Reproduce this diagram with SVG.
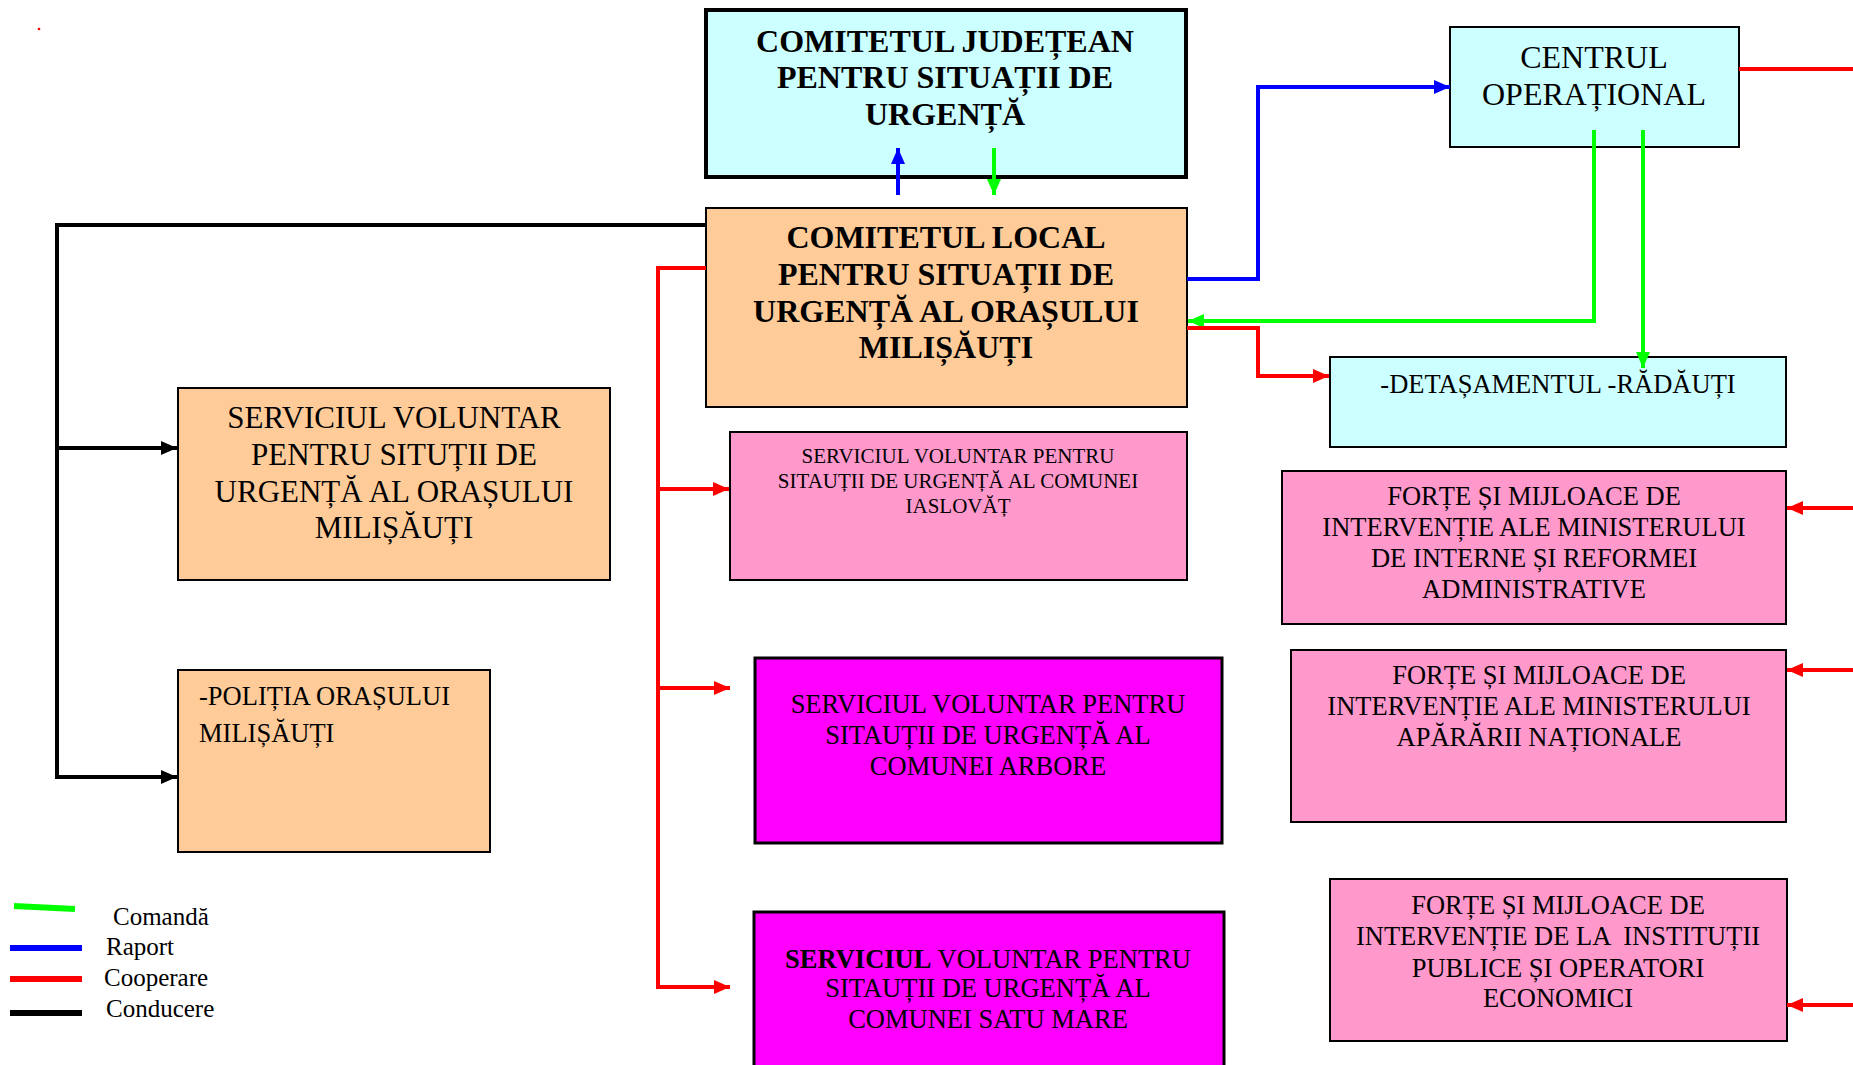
<svg xmlns="http://www.w3.org/2000/svg" width="1853" height="1065" viewBox="0 0 1853 1065">
<style>
text{font-family:"Liberation Serif","Times New Roman",serif;fill:#000}
.b{font-weight:bold}
.c{text-anchor:middle}
.box{stroke:#000;stroke-width:2}
.cyan{fill:#CCFFFF}
.peach{fill:#FFCC99}
.pink{fill:#FF99CC}
.mag{fill:#FF00FF}
.ln{fill:none;stroke-width:4}
</style>
<defs>
<marker id="ak" markerWidth="16" markerHeight="14" refX="16" refY="7" orient="auto" markerUnits="userSpaceOnUse"><path d="M0,0 L16,7 L0,14 z" fill="#000"/></marker>
<marker id="ar" markerWidth="16" markerHeight="14" refX="16" refY="7" orient="auto" markerUnits="userSpaceOnUse"><path d="M0,0 L16,7 L0,14 z" fill="#FF0000"/></marker>
<marker id="ab" markerWidth="16" markerHeight="14" refX="16" refY="7" orient="auto" markerUnits="userSpaceOnUse"><path d="M0,0 L16,7 L0,14 z" fill="#0000FF"/></marker>
<marker id="ag" markerWidth="16" markerHeight="14" refX="16" refY="7" orient="auto" markerUnits="userSpaceOnUse"><path d="M0,0 L16,7 L0,14 z" fill="#00FF00"/></marker>
</defs>
<rect width="1853" height="1065" fill="#fff"/>
<circle cx="39" cy="29" r="1.3" fill="#FF0000"/>

<g id="comitetul-judetean">
<rect x="706" y="10" width="480" height="167" class="cyan" stroke="#000" stroke-width="4"/>
<text class="b c" font-size="32"><tspan x="945" y="52">COMITETUL JUDEȚEAN</tspan><tspan x="945" y="88">PENTRU SITUAȚII DE</tspan><tspan x="945" y="125">URGENȚĂ</tspan></text>
</g>

<g id="comitetul-local">
<rect x="706" y="208" width="481" height="199" class="box peach"/>
<text class="b c" font-size="32"><tspan x="946" y="248">COMITETUL LOCAL</tspan><tspan x="946" y="285">PENTRU SITUAȚII DE</tspan><tspan x="946" y="322">URGENȚĂ AL ORAȘULUI</tspan><tspan x="946" y="358">MILIȘĂUȚI</tspan></text>
</g>

<g id="centrul-operational">
<rect x="1450" y="27" width="289" height="120" class="box cyan"/>
<text class="c" font-size="32"><tspan x="1594" y="68">CENTRUL</tspan><tspan x="1594" y="105">OPERAȚIONAL</tspan></text>
</g>

<g id="detasamentul">
<rect x="1330" y="357" width="456" height="90" class="box cyan"/>
<text class="c" font-size="26.5" x="1558" y="393">-DETAȘAMENTUL -RĂDĂUȚI</text>
</g>

<g id="serviciul-orasului">
<rect x="178" y="388" width="432" height="192" class="box peach"/>
<text class="c" font-size="31"><tspan x="394" y="428">SERVICIUL VOLUNTAR</tspan><tspan x="394" y="465">PENTRU SITUȚII DE</tspan><tspan x="394" y="502">URGENȚĂ AL ORAȘULUI</tspan><tspan x="394" y="538">MILIȘĂUȚI</tspan></text>
</g>

<g id="politia">
<rect x="178" y="670" width="312" height="182" class="box peach"/>
<text font-size="26.5"><tspan x="199" y="705">-POLIȚIA ORAȘULUI</tspan><tspan x="199" y="742">MILIȘĂUȚI</tspan></text>
</g>

<g id="serviciul-iaslovat">
<rect x="730" y="432" width="457" height="148" class="box pink"/>
<text class="c" font-size="21"><tspan x="958" y="463">SERVICIUL VOLUNTAR PENTRU</tspan><tspan x="958" y="488">SITAUȚII DE URGENȚĂ AL COMUNEI</tspan><tspan x="958" y="513">IASLOVĂȚ</tspan></text>
</g>

<g id="serviciul-arbore">
<rect x="755" y="658" width="467" height="185" class="mag" stroke="#000" stroke-width="3"/>
<text class="c" font-size="26.5"><tspan x="988" y="713">SERVICIUL VOLUNTAR PENTRU</tspan><tspan x="988" y="744">SITAUȚII DE URGENȚĂ AL</tspan><tspan x="988" y="775">COMUNEI ARBORE</tspan></text>
</g>

<g id="serviciul-satu-mare">
<rect x="754" y="912" width="470" height="160" class="mag" stroke="#000" stroke-width="3"/>
<text class="c" font-size="26.5"><tspan x="988" y="968"><tspan class="b">SERVICIUL</tspan> VOLUNTAR PENTRU</tspan><tspan x="988" y="997">SITAUȚII DE URGENȚĂ AL</tspan><tspan x="988" y="1028">COMUNEI SATU MARE</tspan></text>
</g>

<g id="forte-mira">
<rect x="1282" y="471" width="504" height="153" class="box pink"/>
<text class="c" font-size="26.5"><tspan x="1534" y="505">FORȚE ȘI MIJLOACE DE</tspan><tspan x="1534" y="536">INTERVENȚIE ALE MINISTERULUI</tspan><tspan x="1534" y="567">DE INTERNE ȘI REFORMEI</tspan><tspan x="1534" y="598">ADMINISTRATIVE</tspan></text>
</g>

<g id="forte-man">
<rect x="1291" y="650" width="495" height="172" class="box pink"/>
<text class="c" font-size="26.5"><tspan x="1539" y="684">FORȚE ȘI MIJLOACE DE</tspan><tspan x="1539" y="715">INTERVENȚIE ALE MINISTERULUI</tspan><tspan x="1539" y="746">APĂRĂRII NAȚIONALE</tspan></text>
</g>

<g id="forte-institutii">
<rect x="1330" y="879" width="457" height="162" class="box pink"/>
<text class="c" font-size="26.5" style="white-space:pre"><tspan x="1558" y="914">FORȚE ȘI MIJLOACE DE</tspan><tspan x="1558" y="945">INTERVENȚIE DE LA  INSTITUȚII</tspan><tspan x="1558" y="977">PUBLICE ȘI OPERATORI</tspan><tspan x="1558" y="1007">ECONOMICI</tspan></text>
</g>

<g id="connectors">
<path class="ln" stroke="#0000FF" d="M898,195 V148" marker-end="url(#ab)"/>
<path class="ln" stroke="#00FF00" d="M994,148 V195" marker-end="url(#ag)"/>
<path class="ln" stroke="#000" d="M706,225 H57 V777 H177" marker-end="url(#ak)"/>
<path class="ln" stroke="#000" d="M57,448 H177" marker-end="url(#ak)"/>
<path class="ln" stroke="#FF0000" d="M706,268 H658 V987 H730" marker-end="url(#ar)"/>
<path class="ln" stroke="#FF0000" d="M658,489 H729" marker-end="url(#ar)"/>
<path class="ln" stroke="#FF0000" d="M658,688 H730" marker-end="url(#ar)"/>
<path class="ln" stroke="#0000FF" d="M1187,279 H1258 V87 H1450" marker-end="url(#ab)"/>
<path class="ln" stroke="#00FF00" d="M1594,130 V321 H1188" marker-end="url(#ag)"/>
<path class="ln" stroke="#00FF00" d="M1643,130 V368" marker-end="url(#ag)"/>
<path class="ln" stroke="#FF0000" d="M1187,328 H1258 V376 H1329" marker-end="url(#ar)"/>
<path class="ln" stroke="#FF0000" d="M1739,69 H1853"/>
<path class="ln" stroke="#FF0000" d="M1853,508 H1787" marker-end="url(#ar)"/>
<path class="ln" stroke="#FF0000" d="M1853,670 H1787" marker-end="url(#ar)"/>
<path class="ln" stroke="#FF0000" d="M1853,1005 H1787" marker-end="url(#ar)"/>
</g>

<g id="legend">
<path d="M14,906 L75,909" stroke="#00FF00" stroke-width="6" fill="none"/>
<path d="M10,948 H82" stroke="#0000FF" stroke-width="6" fill="none"/>
<path d="M10,979 H82" stroke="#FF0000" stroke-width="6" fill="none"/>
<path d="M10,1013 H82" stroke="#000" stroke-width="6" fill="none"/>
<text font-size="25"><tspan x="113" y="925">Comandă</tspan><tspan x="106" y="955">Raport</tspan><tspan x="104" y="986">Cooperare</tspan><tspan x="106" y="1017">Conducere</tspan></text>
</g>
</svg>
